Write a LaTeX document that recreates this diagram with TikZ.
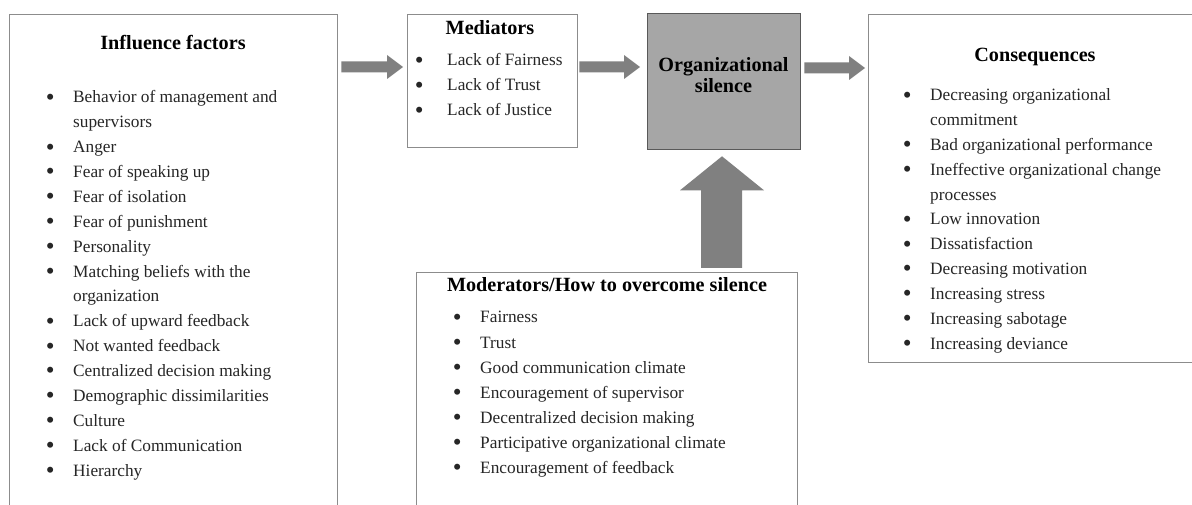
\documentclass[tikz,border=0pt]{standalone}
\usepackage{fontspec}
\usepackage{graphicx}
\setmainfont{Liberation Serif}
\usetikzlibrary{calc}
\definecolor{arrowgray}{HTML}{808080}
\definecolor{boxline}{HTML}{8C8C8C}
\definecolor{silfill}{HTML}{A6A6A6}
\definecolor{txt}{HTML}{262626}
\newlength\bugap
\newcommand\bu{\llap{\makebox[6pt]{\raisebox{-2.3pt}{\scalebox{1.45}{\textbullet}}}\hspace{\bugap}}}
\newcommand\harrow[3]{%
  \fill[arw] let \p1=#1, \p2=#2 in
  (\x1,{-#3pt+5.5pt}) -- ({\x2-16pt},{-#3pt+5.5pt}) -- ({\x2-16pt},{-#3pt+12pt})
  -- (\x2,{-#3pt}) -- ({\x2-16pt},{-#3pt-12pt}) -- ({\x2-16pt},{-#3pt-5.5pt})
  -- (\x1,{-#3pt-5.5pt}) -- cycle;}
\begin{document}
\begin{tikzpicture}[
  box/.style={draw=boxline, line width=1.3pt, anchor=north west, inner sep=0pt},
  ttl/.style={font=\fontsize{20.2}{21}\selectfont\bfseries, text=black, inner sep=0pt},
  item/.style={font=\fontsize{17.3}{20}\selectfont, text=txt, anchor=west, inner sep=0pt,
               text height=12pt, text depth=4pt},
  arw/.style={fill=arrowgray}]
\useasboundingbox (0,0) rectangle (1192pt,-505pt);
\clip (0,0) rectangle (1192pt,-505pt);
\fill[white] (0,0) rectangle (1192pt,-505pt);

% boxes
\node[box, minimum width=328pt, minimum height=530pt] (inf) at (9pt,-14pt) {};
\node[box, minimum width=170pt, minimum height=133pt] (med) at (407pt,-14pt) {};
\node[box, fill=silfill, draw=black!65, minimum width=153pt, minimum height=136pt] (org) at (647pt,-13pt) {};
\node[box, minimum width=360pt, minimum height=348pt] (cons) at (868pt,-14pt) {};
\node[box, minimum width=381pt, minimum height=260pt] (mod) at (416pt,-272pt) {};

% titles
\node[ttl] (inf-t) at (173pt,-43pt) {Influence factors};
\node[ttl] (med-t) at (490pt,-28pt) {Mediators};
\node[ttl, align=center] (org-t) at (723.5pt,-75.5pt) {Organizational\\silence};
\node[ttl] (cons-t) at (1035pt,-57pt) {Consequences};
\node[ttl] (mod-t) at (607pt,-285pt) {Moderators/How to overcome silence};

% influence factors
\setlength\bugap{20pt}
\foreach \t [count=\i] in {\bu Behavior of management and, supervisors, \bu Anger,
  \bu Fear of speaking up, \bu Fear of isolation, \bu Fear of punishment,
  \bu Personality, \bu Matching beliefs with the, organization,
  \bu Lack of upward feedback, \bu Not wanted feedback, \bu Centralized decision making,
  \bu Demographic dissimilarities, \bu Culture, \bu Lack of Communication, \bu Hierarchy}
  \node[item] (inf-\i) at (73pt,{-99pt-24.87pt*(\i-1)}) {\t};

% mediators
\setlength\bugap{25pt}
\foreach \t [count=\i] in {\bu Lack of Fairness, \bu Lack of Trust, \bu Lack of Justice}
  \node[item] (med-\i) at (447pt,{-62pt-25pt*(\i-1)}) {\t};

% moderators
\setlength\bugap{20pt}
\foreach \t [count=\i] in {\bu Fairness, \bu Trust, \bu Good communication climate,
  \bu Encouragement of supervisor, \bu Decentralized decision making,
  \bu Participative organizational climate, \bu Encouragement of feedback}
  \node[item] (mod-\i) at (480pt,{-319pt-25pt*(\i-1)}) {\t};

% consequences
\foreach \t [count=\i] in {\bu Decreasing organizational, commitment,
  \bu Bad organizational performance, \bu Ineffective organizational change, processes,
  \bu Low innovation, \bu Dissatisfaction, \bu Decreasing motivation,
  \bu Increasing stress, \bu Increasing sabotage, \bu Increasing deviance}
  \node[item] (cons-\i) at (930pt,{-97pt-24.8pt*(\i-1)}) {\t};

% arrows
\harrow{([xshift=3pt]inf.east)}{([xshift=-4pt]med.west)}{67}
\harrow{([xshift=1pt]med.east)}{([xshift=-7pt]org.west)}{67}
\harrow{([xshift=3pt]org.east)}{([xshift=-3pt]cons.west)}{68}
\fill[arw] let \p1=(org.south), \p2=(mod.north) in
  (701pt,{\y2+4pt}) -- (701pt,{\y1-40pt}) -- (680pt,{\y1-40pt}) -- (722pt,{\y1-6pt})
  -- (764pt,{\y1-40pt}) -- (742pt,{\y1-40pt}) -- (742pt,{\y2+4pt}) -- cycle;
\end{tikzpicture}
\end{document}
